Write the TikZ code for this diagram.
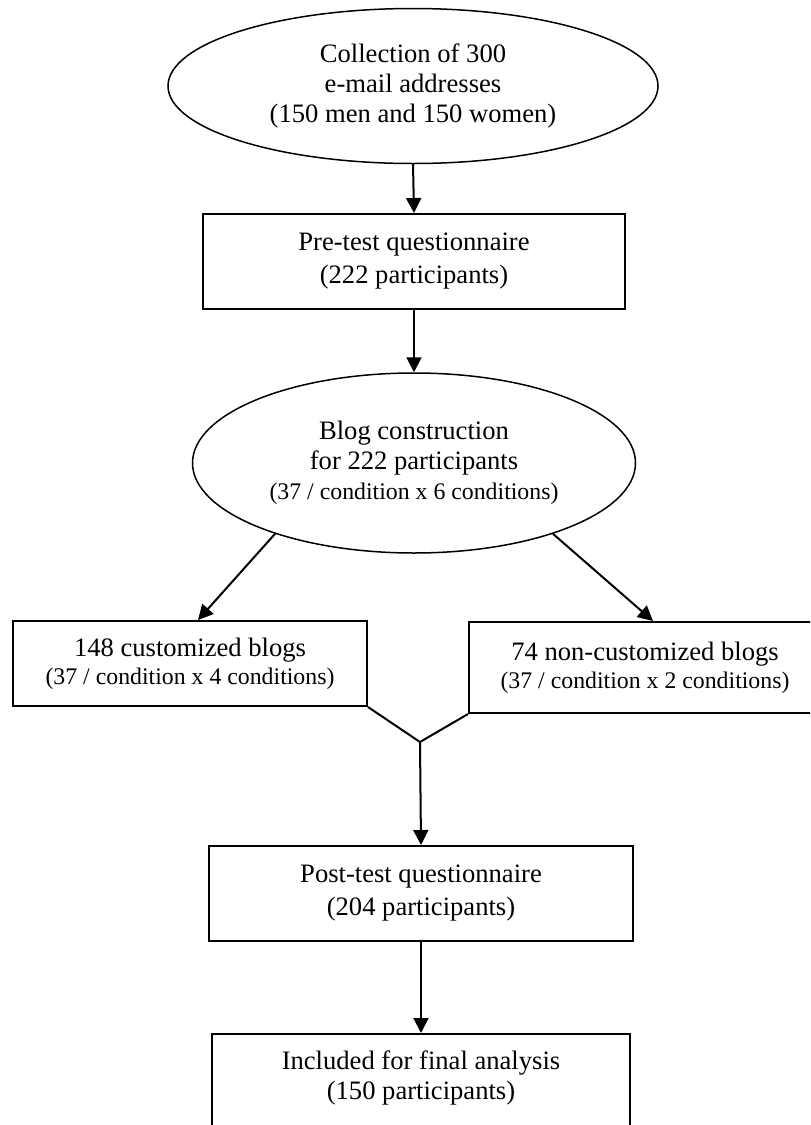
\documentclass[tikz,border=0pt]{standalone}
\usepackage{fontspec}
\setmainfont{Liberation Serif}
\usetikzlibrary{arrows.meta,shapes.geometric}
\begin{document}
\begin{tikzpicture}[x=0.5pt,y=-0.5pt,
  every node/.style={font=\fontsize{13.3pt}{15pt}\selectfont, align=center, inner sep=0pt},
  ellnode/.style={draw, line width=0.75pt, ellipse},
  boxnode/.style={draw, line width=1pt, rectangle},
  arr/.style={line width=1pt, -{Triangle[length=7.5pt,width=7.5pt]}},
  plain/.style={line width=1pt}]
\useasboundingbox (0,0) rectangle (810,1125);
\clip (0,0) rectangle (810,1125);
\newcommand{\smallf}{\fontsize{11.9pt}{14pt}\selectfont}

\node[ellnode, minimum width=245pt, minimum height=77.5pt] (e1) at (413,86)
  {Collection of 300\\e-mail addresses\\(150 men and 150 women)};

\node[boxnode, minimum width=211pt, minimum height=47.5pt] (pre) at (414,261.5)
  {Pre-test questionnaire\\[1.5pt](222 participants)};

\node[ellnode, minimum width=221.5pt, minimum height=90pt] (e2) at (414,463)
  {Blog construction\\for 222 participants\\{\smallf (37 / condition x 6 conditions)}};

\node[boxnode, minimum width=177pt, minimum height=42.5pt] (left) at (190,663.5)
  {148 customized blogs\\[-1pt]{\smallf (37 / condition x 4 conditions)}};

\node[boxnode, minimum width=176pt, minimum height=45.5pt] (right) at (645,667.5)
  {74 non-customized blogs\\[-1pt]{\smallf (37 / condition x 2 conditions)}};

\coordinate (vjoin) at (420,742);

\node[boxnode, minimum width=212pt, minimum height=47.5pt] (post) at (421,893.5)
  {Post-test questionnaire\\[1.5pt](204 participants)};

\node[boxnode, minimum width=209pt, minimum height=60pt, anchor=north] (final) at (421,1033) {};
\node (finaltext) at (421,1078) {Included for final analysis\\(150 participants)};

\draw[arr] (e1.south) -- (pre.north);
\draw[arr] (pre.south) -- (e2.north);
\draw[arr] (e2.207) -- ([xshift=4pt]left.north);
\draw[arr] (e2.333) -- ([xshift=4pt]right.north);
\draw[plain] (left.south east) -- (vjoin) -- (right.south west);
\draw[arr] (vjoin) -- (post.north);
\draw[arr] (post.south) -- (final.north);
\end{tikzpicture}
\end{document}
